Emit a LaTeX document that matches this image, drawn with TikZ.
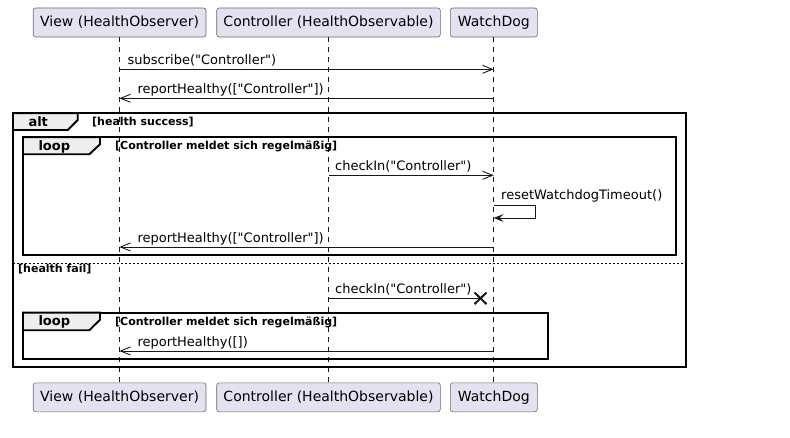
\documentclass[tikz,border=0pt]{standalone}
\usepackage{fontspec}
\setmainfont{DejaVu Sans}
\newfontfamily\dv{DejaVu Sans}
\usetikzlibrary{arrows.meta,calc}
\definecolor{partfill}{HTML}{E2E2F0}
\definecolor{partborder}{HTML}{6A6A6A}
\definecolor{tabfill}{HTML}{EEEEEE}
\definecolor{ink}{HTML}{181818}
\begin{document}
\begin{tikzpicture}[x=1pt,y=-1pt,
  part/.style={draw=partborder, fill=partfill, rounded corners=2.5pt, line width=0.6pt,
    inner sep=0pt, minimum height=29pt, font=\dv\fontsize{14pt}{16pt}\selectfont},
  lifeline/.style={draw=ink, line width=0.5pt, dash pattern=on 5pt off 5pt},
  msg/.style={draw=ink, line width=0.9pt},
  openarr/.style={msg, -{Straight Barb[length=10pt,width=8pt,line width=0.9pt]}},
  fillarr/.style={msg, -{Stealth[length=10pt,width=8pt,inset=4pt]}},
  mlabel/.style={anchor=base west, inner sep=0pt, font=\dv\fontsize{13pt}{15pt}\selectfont},
  frame/.style={draw=black, line width=1.9pt},
  tab/.style={draw=black, fill=tabfill, line width=1.9pt},
  ftitle/.style={anchor=base west, inner sep=0pt, font=\dv\bfseries\fontsize{13pt}{15pt}\selectfont},
  cond/.style={anchor=base west, inner sep=0pt, font=\dv\bfseries\fontsize{11pt}{13pt}\selectfont},
  elseline/.style={draw=black, line width=0.8pt, dash pattern=on 2pt off 2pt},
  lostx/.style={draw=ink, line width=2pt}
]
\useasboundingbox (0,0) rectangle (790,438);

% participants
\node[part, minimum width=172.7pt] (vt) at (119.6,22.5) {View (HealthObserver)};
\node[part, minimum width=223.6pt] (ct) at (328.5,22.5) {Controller (HealthObservable)};
\node[part, minimum width=87pt] (wt) at (493.8,22.5) {WatchDog};
\node[part, minimum width=172.7pt] (vb) at (119.6,397.3) {View (HealthObserver)};
\node[part, minimum width=223.6pt] (cb) at (328.5,397.3) {Controller (HealthObservable)};
\node[part, minimum width=87pt] (wb) at (493.8,397.3) {WatchDog};

% lifelines
\coordinate (vl1) at (119.3,37); \coordinate (vl2) at (119.3,382.3);
\coordinate (cl1) at (328.7,37); \coordinate (cl2) at (328.7,382.3);
\coordinate (wl1) at (493.7,37); \coordinate (wl2) at (493.7,382.3);
\draw[lifeline] (vl1) -- (vl2);
\draw[lifeline] (cl1) -- (cl2);
\draw[lifeline] (wl1) -- (wl2);

% alt frame
\coordinate (altA) at (13,113.3); \coordinate (altB) at (685.7,366.7);
\draw[frame] (altA) rectangle (altB);
\draw[tab] (13,113.3) -- (77.7,113.3) -- (77.7,120) -- (67.7,130) -- (13,130) -- cycle;
\node[ftitle] (altt) at (28.3,126.5) {alt};
\node[cond] (altc) at (92,126) {[health success]};

% loop 1
\coordinate (l1A) at (23,137.3); \coordinate (l1B) at (675.7,255.3);
\draw[frame] (l1A) rectangle (l1B);
\draw[tab] (23,137.3) -- (100,137.3) -- (100,144.3) -- (89.3,154.3) -- (23,154.3) -- cycle;
\node[ftitle] (l1t) at (38.3,150.5) {loop};
\node[cond] (l1c) at (115,150) {[Controller meldet sich regelmäßig]};

% else
\coordinate (eA) at (13,263.3); \coordinate (eB) at (685.7,263.3);
\draw[elseline] (eA) -- (eB);
\node[cond] (ec) at (18,272.3) {[health fail]};

% loop 2
\coordinate (l2A) at (23,312.7); \coordinate (l2B) at (547.7,359.3);
\draw[frame] (l2A) rectangle (l2B);
\draw[tab] (23,312.7) -- (100,312.7) -- (100,319.7) -- (89.3,330.3) -- (23,330.3) -- cycle;
\node[ftitle] (l2t) at (38.3,326) {loop};
\node[cond] (l2c) at (115,325.5) {[Controller meldet sich regelmäßig]};

% messages
\coordinate (m1s) at (119.3,69.3); \coordinate (m1e) at (493.7,69.3);
\draw[openarr] (m1s) -- (m1e);
\node[mlabel] (m1l) at (127.5,64.3) {subscribe("Controller")};

\coordinate (m2s) at (493.7,98.3); \coordinate (m2e) at (119.3,98.3);
\draw[openarr] (m2s) -- (m2e);
\node[mlabel] (m2l) at (137.3,93.5) {reportHealthy(["Controller"])};

\coordinate (m3s) at (328.7,175.3); \coordinate (m3e) at (493.7,175.3);
\draw[openarr] (m3s) -- (m3e);
\node[mlabel] (m3l) at (335,170.8) {checkIn("Controller")};

\coordinate (m4s) at (493.7,205.7); \coordinate (m4a) at (535.3,205.7);
\coordinate (m4b) at (535.3,218); \coordinate (m4e) at (493.7,218);
\draw[fillarr] (m4s) -- (m4a) -- (m4b) -- (m4e);
\node[mlabel] (m4l) at (501,199.3) {resetWatchdogTimeout()};

\coordinate (m5s) at (493.7,247); \coordinate (m5e) at (119.3,247);
\draw[openarr] (m5s) -- (m5e);
\node[mlabel] (m5l) at (137.3,242.3) {reportHealthy(["Controller"])};

\coordinate (m6s) at (328.7,298.3); \coordinate (m6e) at (480.5,298.3);
\draw[msg] (m6s) -- (m6e);
\draw[lostx] ($(m6e)+(-6,-5.8)$) -- ($(m6e)+(6,5.8)$);
\draw[lostx] ($(m6e)+(-6,5.8)$) -- ($(m6e)+(6,-5.8)$);
\node[mlabel] (m6l) at (335,293.5) {checkIn("Controller")};

\coordinate (m7s) at (493.7,351); \coordinate (m7e) at (119.3,351);
\draw[openarr] (m7s) -- (m7e);
\node[mlabel] (m7l) at (137.3,346.3) {reportHealthy([])};
\end{tikzpicture}
\end{document}
